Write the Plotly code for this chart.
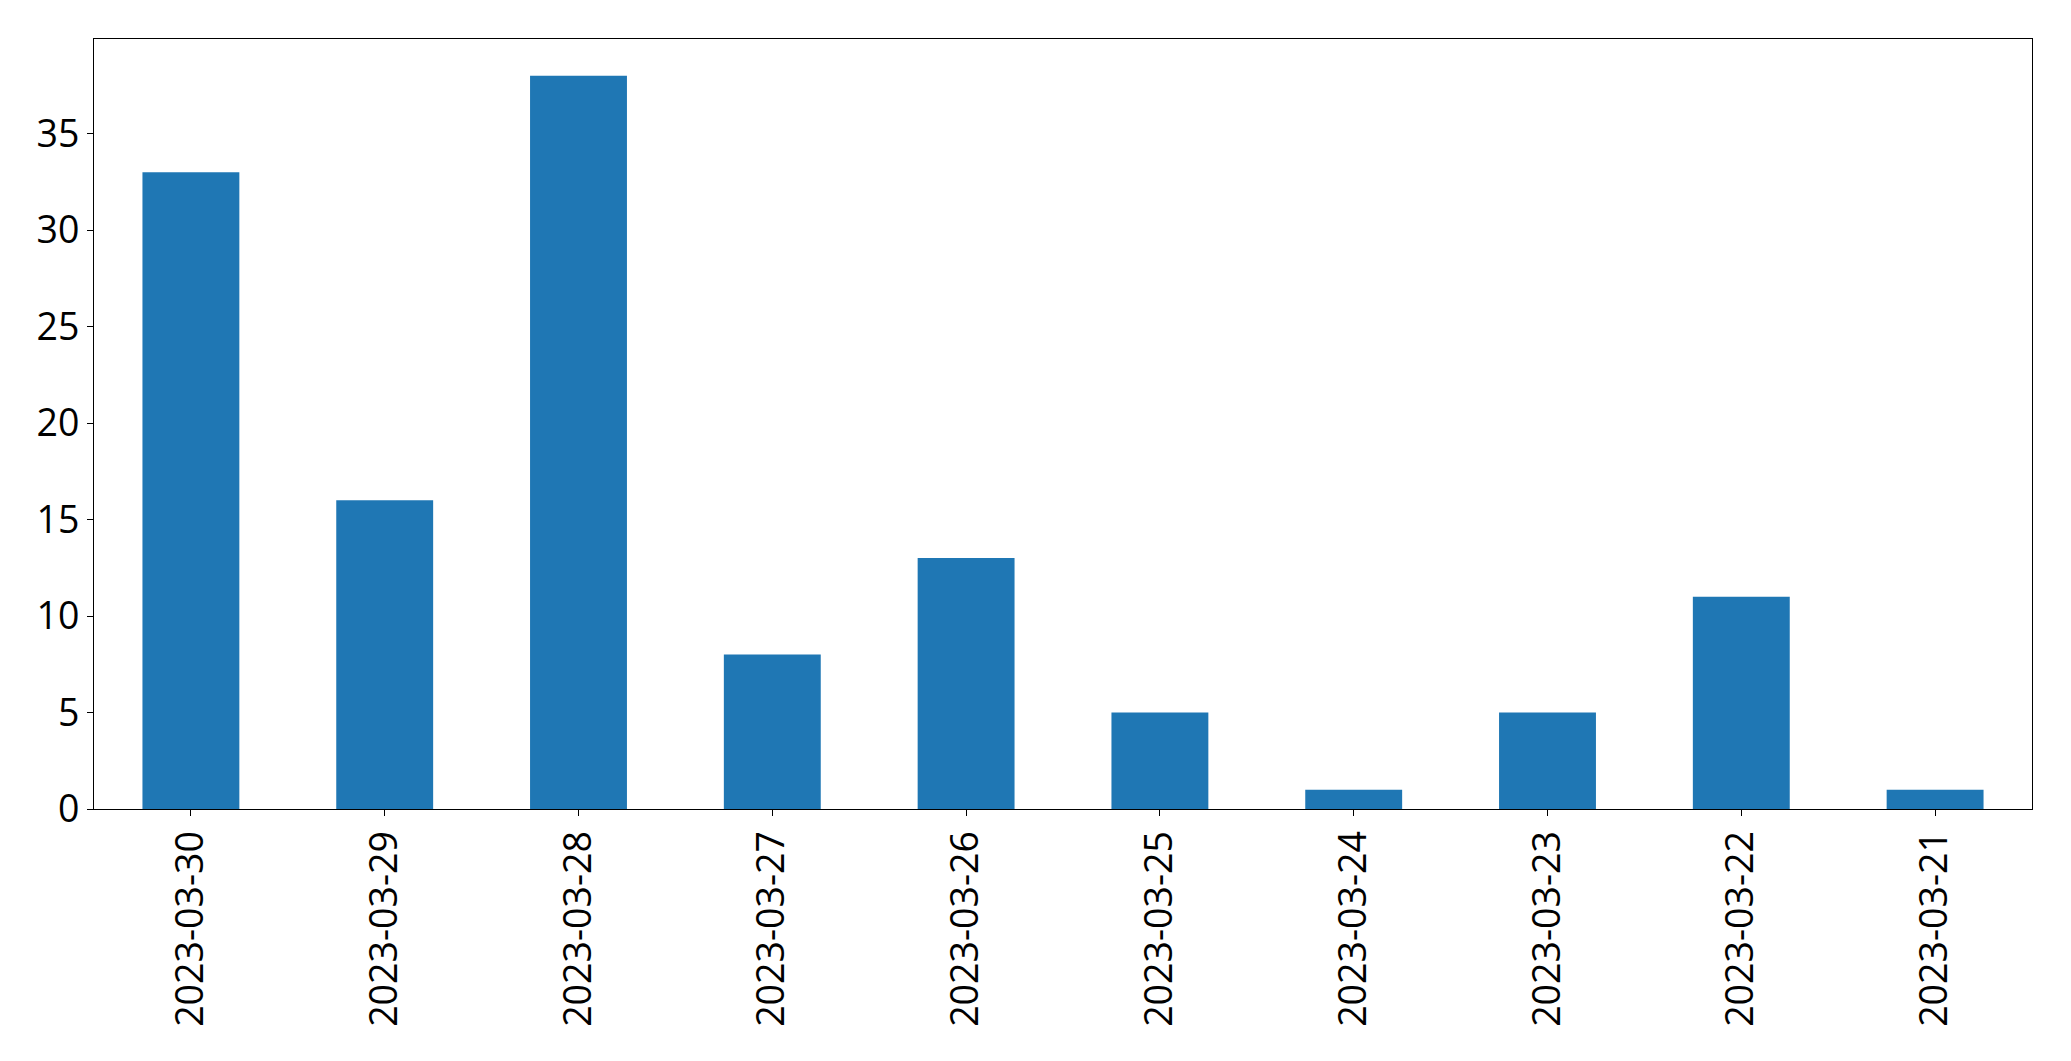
import plotly.graph_objects as go

dates = ["2023-03-30", "2023-03-29", "2023-03-28", "2023-03-27", "2023-03-26",
         "2023-03-25", "2023-03-24", "2023-03-23", "2023-03-22", "2023-03-21"]
counts = [33, 16, 38, 8, 13, 5, 1, 5, 11, 1]
y_ticks = [0, 5, 10, 15, 20, 25, 30, 35]

fig = go.Figure(go.Bar(x=dates, y=counts, width=0.5, marker=dict(color="#1f77b4", line=dict(width=0))))

axis_common = dict(showline=True, linecolor="black", linewidth=1.3, mirror=True,
                   showgrid=False, zeroline=False, ticks="outside", ticklen=6,
                   tickcolor="black", tickwidth=1.3,
                   tickfont=dict(family="Open Sans", size=37.5, color="black"))

fig.update_layout(
    width=2063, height=1053,
    margin=dict(l=86, r=39, t=31, b=252),
    paper_bgcolor="white", plot_bgcolor="white",
    showlegend=False,
    xaxis=dict(type="category", range=[-0.5, 9.5], tickangle=-90, **axis_common),
    yaxis=dict(range=[0, 39.9], tickvals=y_ticks, **axis_common),
)

fig.write_html("out.html")
